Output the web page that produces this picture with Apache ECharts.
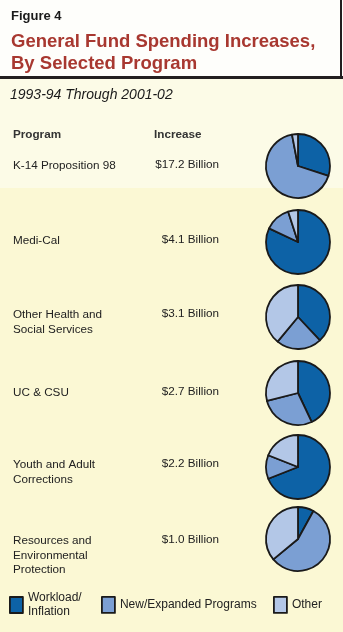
<!DOCTYPE html>
<html><head><meta charset="utf-8">
<script src="https://cdn.jsdelivr.net/npm/echarts@6/dist/echarts.min.js"></script>
<style>html,body{margin:0;padding:0;background:#fbf8d4;}#c{width:343px;height:632px;}</style>
</head><body><div id="c"></div>
<script>
var programs = ['K-14 Proposition 98', 'Medi-Cal', 'Other Health and\nSocial Services', 'UC & CSU', 'Youth and Adult\nCorrections', 'Resources and\nEnvironmental\nProtection'];
var increases = ['$17.2 Billion', '$4.1 Billion', '$3.1 Billion', '$2.7 Billion', '$2.2 Billion', '$1.0 Billion'];
var categories = ['Workload/Inflation', 'New/Expanded Programs', 'Other'];
var workload = [30, 82, 38, 43, 69, 8];
var newExpanded = [67, 13, 23, 28, 12, 56];
var other = [3, 5, 39, 29, 19, 36];
var colors = ['#0d62a6', '#7b9fd3', '#b3c7e7'];

var chart = echarts.init(document.getElementById('c'), null, {renderer: 'canvas'});
var rowY = [166, 242, 317, 393, 467, 539];
var FONT = '"Liberation Sans", Arial, Helvetica, sans-serif';

var series = programs.map(function (p, i) {
  return {
    type: 'pie', center: [298, rowY[i]], radius: 32, startAngle: 90, clockwise: true,
    label: {show: false}, labelLine: {show: false}, silent: true, animation: false,
    itemStyle: {borderColor: '#1a1a1a', borderWidth: 1.8},
    data: categories.map(function (c, k) {
      return {name: c, value: [workload, newExpanded, other][k][i], itemStyle: {color: colors[k]}};
    })
  };
});

var graphics = [
  {type: 'rect', shape: {x: 0, y: 0, width: 343, height: 77}, style: {fill: '#fefefb'}, z: -10},
  {type: 'rect', shape: {x: 0, y: 79, width: 343, height: 109}, style: {fill: '#fcfbe7'}, z: -10},
  {type: 'rect', shape: {x: 0, y: 76, width: 343, height: 3}, style: {fill: '#231f20'}},
  {type: 'rect', shape: {x: 340, y: 0, width: 2, height: 77}, style: {fill: '#231f20'}},
  {type: 'text', left: 11, top: 10, style: {text: 'Figure 4', font: 'bold 13px ' + FONT, fill: '#1a1a1a'}},
  {type: 'text', left: 11, top: 31, style: {text: 'General Fund Spending Increases,\nBy Selected Program', font: 'bold 18.5px ' + FONT, fill: '#a83830', lineHeight: 22}},
  {type: 'text', left: 10, top: 88, style: {text: '1993-94 Through 2001-02', font: 'italic 14px ' + FONT, fill: '#1a1a1a'}},
  {type: 'text', left: 13, top: 129, style: {text: 'Program', font: 'bold 11.7px ' + FONT, fill: '#333'}},
  {type: 'text', left: 154, top: 129, style: {text: 'Increase', font: 'bold 11.7px ' + FONT, fill: '#333'}}
];
var textTops = [159, 234, 308, 386, 458, 534];
programs.forEach(function (p, i) {
  graphics.push({type: 'text', left: 13, top: textTops[i], style: {text: p, font: '11.7px ' + FONT, fill: '#222', lineHeight: 14.5}});
  graphics.push({type: 'text', right: 124, top: textTops[i], style: {text: increases[i], font: '11.7px ' + FONT, fill: '#222', textAlign: 'right'}});
});

var legendLefts = [9, 101, 273];
var legendTops = [591, 596, 596];
var legends = categories.map(function (c, k) {
  return {
    data: [c], left: legendLefts[k], top: legendTops[k], orient: 'horizontal', padding: 0,
    itemWidth: 13, itemHeight: 16, itemGap: 0, selectedMode: false, icon: 'rect',
    itemStyle: {borderColor: '#1a1a1a', borderWidth: 1.8},
    formatter: function (n) { return n === 'Workload/Inflation' ? 'Workload/\nInflation' : n; },
    textStyle: {fontFamily: FONT, fontSize: 12, color: '#222', lineHeight: 14}
  };
});

chart.setOption({
  backgroundColor: '#fbf8d4',
  animation: false,
  legend: legends,
  graphic: graphics,
  series: series
});
</script></body></html>
